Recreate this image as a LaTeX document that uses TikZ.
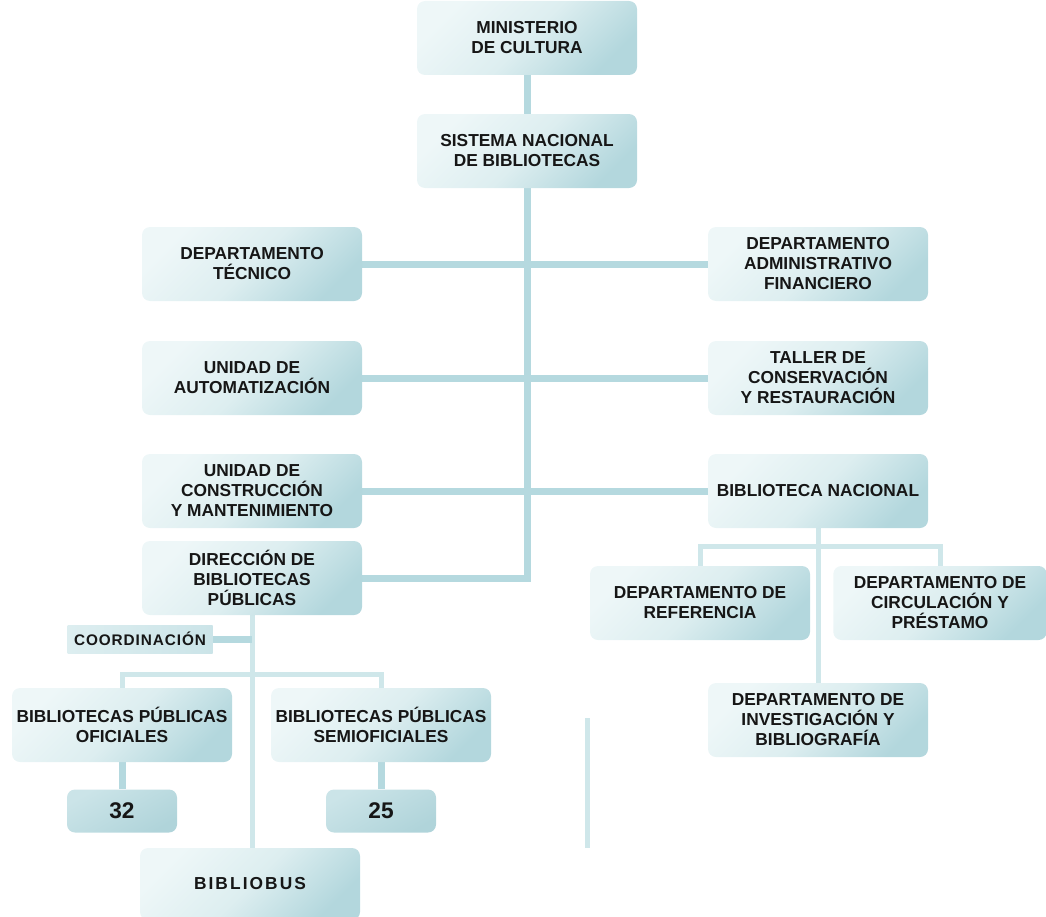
\documentclass[tikz,border=0pt]{standalone}
\usepackage{fontspec}
\usetikzlibrary{backgrounds}
\setmainfont{Liberation Sans}
\newfontfamily\spacedfont[LetterSpace=6]{Liberation Sans}
\newfontfamily\widefont[LetterSpace=12]{Liberation Sans}
\definecolor{boxlight}{HTML}{EEF7F8}
\definecolor{boxmid}{HTML}{DDEEF0}
\definecolor{boxdark}{HTML}{B3D7DD}
\definecolor{linemain}{HTML}{B5D9DF}
\definecolor{linepale}{HTML}{CFE7EA}
\definecolor{numlight}{HTML}{CBE4E8}
\definecolor{numdark}{HTML}{B0D4DA}
\definecolor{ink}{HTML}{161616}
\begin{document}
\begin{tikzpicture}[x=0.75pt,y=-0.75pt,
  box/.style={rounded corners=6pt, top color=boxlight, bottom color=boxdark,
    middle color=boxmid, shading angle=45, align=center,
    font=\fontsize{13}{15}\selectfont\bfseries, text=ink,
    minimum width=165pt, minimum height=55.5pt, inner sep=0pt},
  numbox/.style={rounded corners=6pt, top color=numlight, bottom color=numdark,
    shading angle=30, font=\fontsize{17}{19}\selectfont\bfseries, text=ink,
    minimum width=82.5pt, minimum height=32.25pt, inner sep=0pt},
  tagbox/.style={left color=boxmid, right color=numlight,
    font=\spacedfont\fontsize{11.5}{13}\selectfont\bfseries,
    text=ink, minimum width=108.75pt, minimum height=21pt, inner sep=0pt},
  busbox/.style={box, font=\widefont\fontsize{13}{15}\selectfont\bfseries, minimum height=54pt},
  link/.style={draw=linemain, line width=5.25pt},
  thinlink/.style={draw=linepale, line width=3.75pt}
]
\useasboundingbox (0,0) rectangle (1046,917);

% boxes
\node[box] (min)  at (527,38)  {MINISTERIO\\DE CULTURA};
\node[box] (sis)  at (527,151) {SISTEMA NACIONAL\\DE BIBLIOTECAS};
\node[box] (tec)  at (252,264) {DEPARTAMENTO\\TÉCNICO};
\node[box] (adm)  at (818,264) {DEPARTAMENTO\\ADMINISTRATIVO\\FINANCIERO};
\node[box] (aut)  at (252,378) {UNIDAD DE\\AUTOMATIZACIÓN};
\node[box] (tal)  at (818,378) {TALLER DE\\CONSERVACIÓN\\Y RESTAURACIÓN};
\node[box] (con)  at (252,491) {UNIDAD DE\\CONSTRUCCIÓN\\Y MANTENIMIENTO};
\node[box] (bn)   at (818,491) {BIBLIOTECA NACIONAL};
\node[box] (dir)  at (252,578) {DIRECCIÓN DE\\BIBLIOTECAS\\PÚBLICAS};
\node[tagbox] (coord) at (140,639) {COORDINACIÓN};
\node[box] (ofi)  at (122,725) {BIBLIOTECAS PÚBLICAS\\OFICIALES};
\node[box] (semi) at (381,725) {BIBLIOTECAS PÚBLICAS\\SEMIOFICIALES};
\node[numbox] (n32) at (122,811) {32};
\node[numbox] (n25) at (381,811) {25};
\node[busbox] (bus) at (250,884) {BIBLIOBUS};
\node[box] (ref)  at (700,603) {DEPARTAMENTO DE\\REFERENCIA};
\node[box, minimum width=160pt] (circ) at (940,603) {DEPARTAMENTO DE\\CIRCULACIÓN Y\\PRÉSTAMO};
\node[box] (inv)  at (818,720) {DEPARTAMENTO DE\\INVESTIGACIÓN Y\\BIBLIOGRAFÍA};

% free ends of the short stand-alone rule
\coordinate (s1) at (587,718);
\coordinate (s2) at (587,848);

% connectors, behind the boxes
\begin{scope}[on background layer]
  \draw[link] (min.south) -- (sis.north);
  \draw[link] (sis.south) |- (dir.east);
  \draw[link] (tec.east) -- (adm.west);
  \draw[link] (aut.east) -- (tal.west);
  \draw[link] (con.east) -- (bn.west);
  \draw[thinlink] (dir.south) -- (dir.south |- bus.north);
  \draw[link] (coord.east) -- (coord.east -| dir.south);
  \draw[thinlink] (ofi.north) -- ++(0,-13) -| (semi.north);
  \draw[link] (ofi.south) -- (n32.north);
  \draw[link] (semi.south) -- (n25.north);
  \draw[thinlink] (bn.south) -- (inv.north);
  \draw[thinlink] (ref.north) -- ++(0,-19) -| (circ.north);
  \draw[thinlink] (s1) -- (s2);
\end{scope}
\end{tikzpicture}
\end{document}
